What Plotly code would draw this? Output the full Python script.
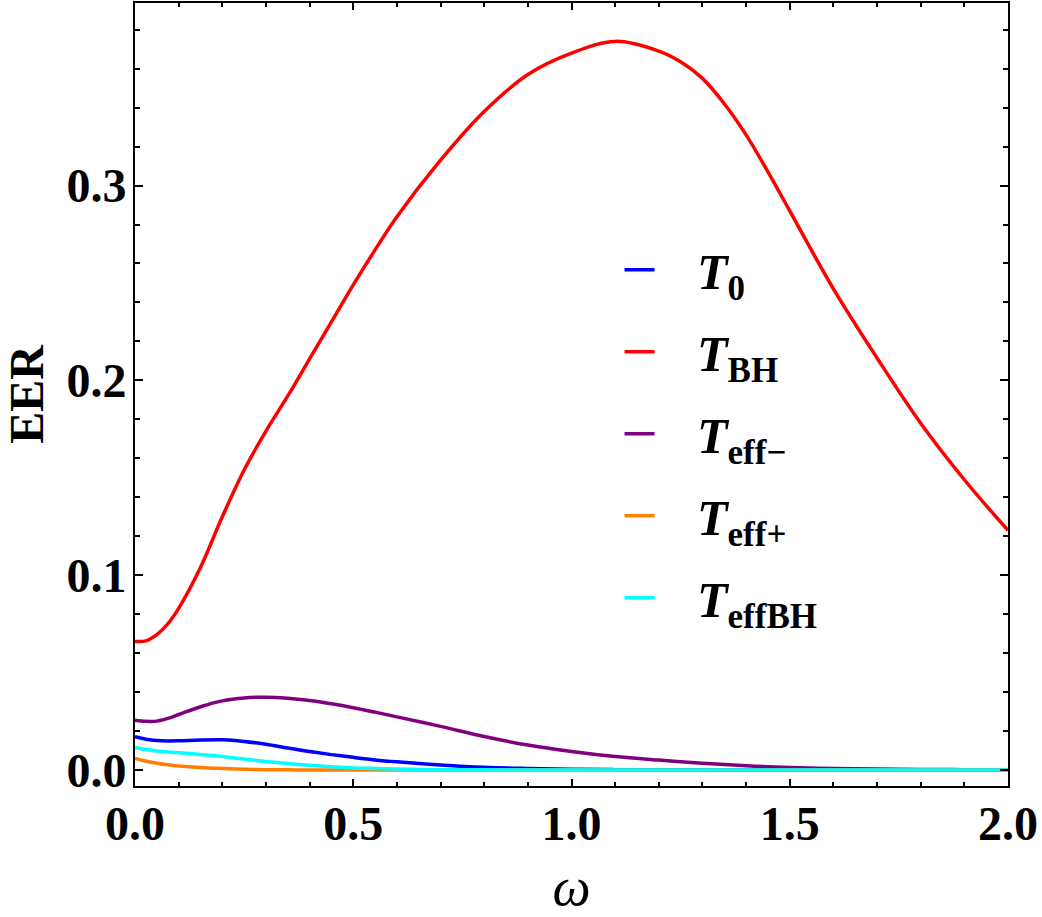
import plotly.graph_objects as go

omega = [0.0, 0.025, 0.05, 0.075, 0.1, 0.15, 0.2, 0.25, 0.3, 0.35, 0.4, 0.45, 0.5, 0.55, 0.6,
         0.7, 0.8, 0.9, 1.0, 1.1, 1.2, 1.25, 1.3, 1.35, 1.4, 1.45, 1.5, 1.6, 1.7, 1.8, 1.9, 2.0]

T_BH = [0.066, 0.0663, 0.0695, 0.075, 0.083, 0.104, 0.130, 0.154, 0.174, 0.192, 0.211, 0.230,
        0.249, 0.267, 0.284, 0.313, 0.338, 0.357, 0.368, 0.374, 0.369, 0.3635, 0.355, 0.342,
        0.326, 0.307, 0.287, 0.247, 0.2115, 0.178, 0.149, 0.123]
T_effm = [0.0256, 0.0250, 0.0251, 0.0265, 0.0285, 0.0325, 0.0355, 0.0370, 0.0374, 0.0369,
          0.0357, 0.0340, 0.0320, 0.0297, 0.0273, 0.0224, 0.0172, 0.0128, 0.0095, 0.0069,
          0.0051, 0.0043, 0.0035, 0.0028, 0.0022, 0.0017, 0.0013, 0.0008, 0.0005, 0.0003,
          0.0002, 0.0001]
T_0 = [0.0171, 0.0158, 0.0151, 0.0149, 0.0150, 0.0154, 0.0155, 0.0147, 0.0132, 0.0113,
       0.0095, 0.0079, 0.0065, 0.0052, 0.0042, 0.0026, 0.0014, 0.0008, 0.0004, 0.0002,
       0.0001, 0.0001, 0.0001, 0.0, 0.0, 0.0, 0.0, 0.0, 0.0, 0.0, 0.0, 0.0]
T_effp = [0.0060, 0.0046, 0.0035, 0.0027, 0.0021, 0.0013, 0.0008, 0.0004, 0.0002, 0.0001,
          0.0, 0.0, 0.0, 0.0, 0.0, 0.0, 0.0, 0.0, 0.0, 0.0, 0.0, 0.0, 0.0, 0.0, 0.0, 0.0,
          0.0, 0.0, 0.0, 0.0, 0.0, 0.0]
T_effBH = [0.0116, 0.0105, 0.0098, 0.0093, 0.0089, 0.0080, 0.0069, 0.0056, 0.0044, 0.0033,
           0.0024, 0.0017, 0.0011, 0.0008, 0.0005, 0.0002, 0.0001, 0.0, 0.0, 0.0, 0.0, 0.0,
           0.0, 0.0, 0.0, 0.0, 0.0, 0.0, 0.0, 0.0, 0.0, 0.0]

names = ["<i>T</i><sub>0</sub>", "<i>T</i><sub>BH</sub>", "<i>T</i><sub>eff\u2212</sub>",
         "<i>T</i><sub>eff+</sub>", "<i>T</i><sub>effBH</sub>"]
series = [T_0, T_BH, T_effm, T_effp, T_effBH]
colors = ["#0000FF", "#FF0000", "#800080", "#FF8000", "#00FFFF"]

FONT = "Liberation Serif"
PAD = "\u00a0\u00a0\u00a0"

fig = go.Figure()
for nm, ys, c in zip(names, series, colors):
    fig.add_trace(go.Scatter(x=omega, y=ys, mode="lines", name=PAD + nm,
                             line=dict(color=c, width=3.5, shape="spline", smoothing=1.0),
                             legendgroup=nm))

axis_common = dict(showline=True, linecolor="black", linewidth=2, mirror="ticks",
                   ticks="inside", tickcolor="black", tickwidth=2, showgrid=False,
                   zeroline=False, tickformat=".1f",
                   tickfont=dict(family=FONT, size=48, color="black", weight="bold"))

fig.update_layout(
    width=1042, height=917,
    margin=dict(l=135, r=34, t=1, b=131),
    plot_bgcolor="white", paper_bgcolor="white",
    xaxis=dict(range=[0, 2], dtick=0.5, tick0=0, ticklen=7, ticklabelstandoff=-6,
               minor=dict(dtick=0.1, ticks="inside", ticklen=4, tickcolor="black", tickwidth=1.5),
               title=dict(text="<i>\u03c9</i>", font=dict(family=FONT, size=54, color="black"),
                          standoff=20),
               **axis_common),
    yaxis=dict(range=[-0.0082, 0.3937], dtick=0.1, tick0=0, ticklen=8, ticklabelstandoff=-3,
               minor=dict(dtick=0.02, ticks="inside", ticklen=5, tickcolor="black", tickwidth=1.5),
               title=dict(text="EER", font=dict(family=FONT, size=48, color="black", weight="bold"),
                          standoff=14),
               **axis_common),
    legend=dict(x=0.555, y=0.709, xanchor="left", yanchor="top",
                bgcolor="rgba(0,0,0,0)", tracegroupgap=14,
                font=dict(family=FONT, size=50, color="black", weight="bold")),
    showlegend=True,
)

fig.write_html("out.html")
